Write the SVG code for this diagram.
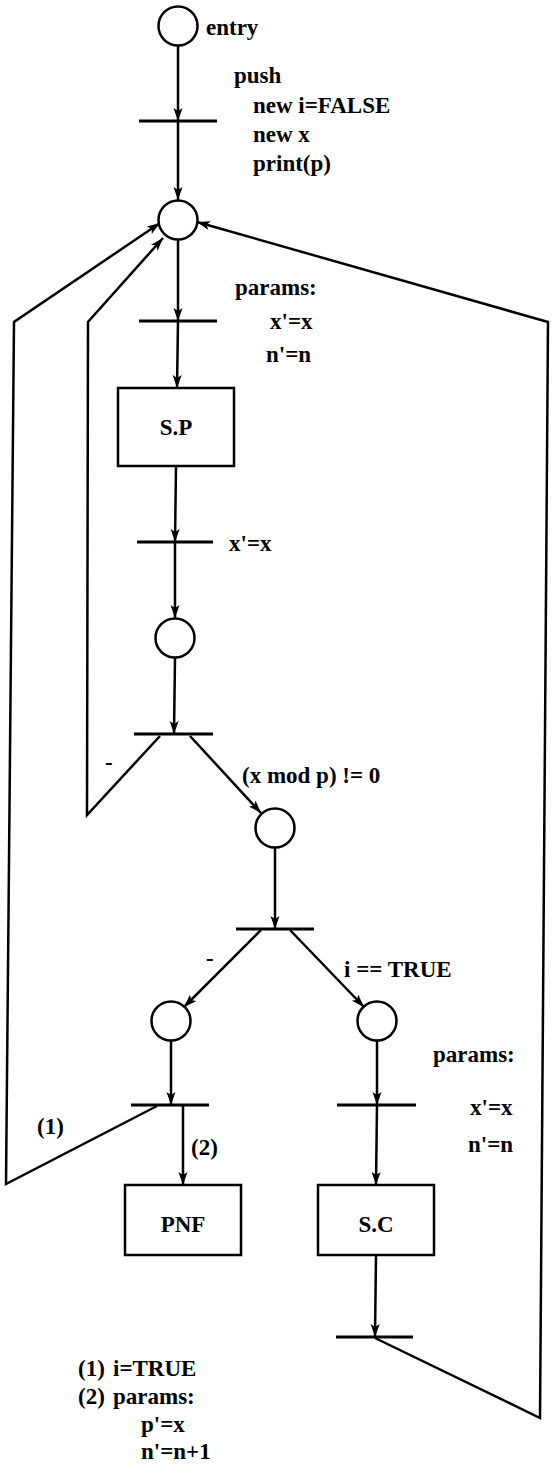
<svg xmlns="http://www.w3.org/2000/svg" width="552" height="1474" viewBox="0 0 552 1474">
<style>
  .pl{fill:#fff;stroke:#000;stroke-width:2.5}
  .bx{fill:#fff;stroke:#000;stroke-width:2.5}
  .tr{stroke:#000;stroke-width:3;fill:none}
  .c{stroke:#000;stroke-width:2.5;fill:none;stroke-linejoin:miter}
  .t{font-family:"Liberation Serif","Times New Roman",serif;font-size:23px;font-weight:bold;fill:#000}
  .m{text-anchor:middle}
</style>
<defs>
  <marker id="ah" markerUnits="userSpaceOnUse" markerWidth="14" markerHeight="10" refX="13" refY="4.5" orient="auto">
    <path d="M0,0 L13,4.5 L0,9 L3,4.5 z" fill="#000"/>
  </marker>
</defs>
<rect width="552" height="1474" fill="#fff"/>
<g id="connectors">
  <path class="c" d="M178,45 L178,121" marker-end="url(#ah)"/>
  <path class="c" d="M178,121 L178,200" marker-end="url(#ah)"/>
  <path class="c" d="M178,240 L178,321" marker-end="url(#ah)"/>
  <path class="c" d="M178,321 L177,388" marker-end="url(#ah)"/>
  <path class="c" d="M176,466 L175,542" marker-end="url(#ah)"/>
  <path class="c" d="M175,542 L175,618" marker-end="url(#ah)"/>
  <path class="c" d="M175,658 L174,734" marker-end="url(#ah)"/>
  <path class="c" d="M160,736 L87,815 L88,322 L163,238" marker-end="url(#ah)"/>
  <path class="c" d="M190,736 L261,813" marker-end="url(#ah)"/>
  <path class="c" d="M275,848 L275,929" marker-end="url(#ah)"/>
  <path class="c" d="M261,930 L184,1007" marker-end="url(#ah)"/>
  <path class="c" d="M290,930 L364,1007" marker-end="url(#ah)"/>
  <path class="c" d="M171,1041 L171,1105" marker-end="url(#ah)"/>
  <path class="c" d="M183,1105 L183,1185" marker-end="url(#ah)"/>
  <path class="c" d="M157,1106 L6,1184 L14,322 L160,223" marker-end="url(#ah)"/>
  <path class="c" d="M377,1041 L377,1105" marker-end="url(#ah)"/>
  <path class="c" d="M377,1105 L376,1185" marker-end="url(#ah)"/>
  <path class="c" d="M376,1255 L375,1337" marker-end="url(#ah)"/>
  <path class="c" d="M375,1338 L540,1418 L548,322 L197,222" marker-end="url(#ah)"/>
</g>
<g id="entry"><circle class="pl" cx="178" cy="26" r="19.5"/><text class="t" x="206" y="35">entry</text></g>
<g id="t1"><line class="tr" x1="139" y1="121" x2="217" y2="121"/>
  <text class="t" x="234" y="83">push</text>
  <text class="t" x="253" y="113">new i=FALSE</text>
  <text class="t" x="253" y="142">new x</text>
  <text class="t" x="253" y="171">print(p)</text></g>
<g id="p1"><circle class="pl" cx="178" cy="220" r="19.5"/></g>
<g id="t2"><line class="tr" x1="139" y1="321" x2="217" y2="321"/>
  <text class="t" x="235" y="295">params:</text>
  <text class="t" x="270" y="329">x'=x</text>
  <text class="t" x="266" y="362">n'=n</text></g>
<g id="sp"><rect class="bx" x="118" y="388" width="116" height="78"/><text class="t m" x="176" y="435">S.P</text></g>
<g id="t3"><line class="tr" x1="137" y1="542" x2="213" y2="542"/><text class="t" x="229" y="551">x'=x</text></g>
<g id="p2"><circle class="pl" cx="175" cy="638" r="19.5"/></g>
<g id="t4"><line class="tr" x1="134" y1="734" x2="213" y2="734"/>
  <text class="t" x="105" y="770">-</text>
  <text class="t" x="242" y="783">(x mod p) != 0</text></g>
<g id="p3"><circle class="pl" cx="275" cy="828" r="19.5"/></g>
<g id="t5"><line class="tr" x1="236" y1="929" x2="314" y2="929"/>
  <text class="t" x="206" y="966">-</text>
  <text class="t" x="344" y="977">i == TRUE</text></g>
<g id="p4"><circle class="pl" cx="171" cy="1021" r="19.5"/></g>
<g id="p5"><circle class="pl" cx="377" cy="1021" r="19.5"/></g>
<g id="t6"><line class="tr" x1="131" y1="1105" x2="209" y2="1105"/>
  <text class="t" x="37" y="1134">(1)</text>
  <text class="t" x="191" y="1155">(2)</text></g>
<g id="t7"><line class="tr" x1="337" y1="1105" x2="416" y2="1105"/>
  <text class="t" x="433" y="1062">params:</text>
  <text class="t" x="470" y="1115">x'=x</text>
  <text class="t" x="468" y="1152">n'=n</text></g>
<g id="pnf"><rect class="bx" x="125" y="1185" width="116" height="70"/><text class="t m" x="183" y="1232">PNF</text></g>
<g id="sc"><rect class="bx" x="318" y="1185" width="116" height="70"/><text class="t m" x="376" y="1232">S.C</text></g>
<g id="t8"><line class="tr" x1="336" y1="1337" x2="413" y2="1337"/></g>
<g id="legend">
  <text class="t" x="78" y="1376">(1)</text><text class="t" x="113" y="1376">i=TRUE</text>
  <text class="t" x="78" y="1404">(2)</text><text class="t" x="113" y="1404">params:</text>
  <text class="t" x="141" y="1432">p'=x</text>
  <text class="t" x="141" y="1459">n'=n+1</text>
</g>
</svg>
